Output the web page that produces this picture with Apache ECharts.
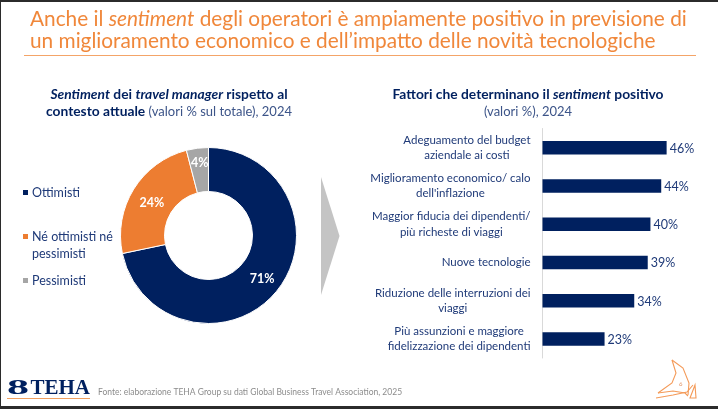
<!DOCTYPE html>
<html><head><meta charset="utf-8">
<style>html,body{margin:0;padding:0;background:#fff}#c{width:718px;height:409px}</style>
<script src="https://cdn.jsdelivr.net/npm/echarts@6/dist/echarts.min.js"></script>
</head><body><div id="c"></div>
<script>
const donutNames = ['Ottimisti', 'Né ottimisti né pessimisti', 'Pessimisti'];
const donutValues = [71, 24, 4];
const factorLabels = [
  'Adeguamento del budget\naziendale ai costi',
  "Miglioramento economico/ calo\ndell'inflazione",
  'Maggior fiducia dei dipendenti/\npiù richeste di viaggi',
  'Nuove tecnologie',
  'Riduzione delle interruzioni dei\nviaggi',
  'Più assunzioni e maggiore\nfidelizzazione dei dipendenti'
];
const factorValues = [46, 44, 40, 39, 34, 23];

const NAVY = '#00205f', ORANGE = '#ed7d31', GRAY = '#a6a6a6', TXT = '#1f3a78', TITLE = '#f0873a';
const FONT = 'Lato';
const chart = echarts.init(document.getElementById('c'));

const head = {fontFamily: FONT, fontSize: 13.8, lineHeight: 17, color: NAVY};
const headRich = {
  b: {...head, fontWeight: 'bold'},
  i: {...head, fontWeight: 'bold', fontStyle: 'italic'},
  n: {...head, fontSize: 13, fontWeight: 'normal', color: '#3c5488'}
};
const bigBase = {fontFamily: FONT, fontSize: 20.8, lineHeight: 22, fontWeight: 'normal', color: TITLE};
const labelNudge = [[0, 0], [2, 4], [0, -4]];

function legendFor(name, top, label) {
  return {
    data: [name], orient: 'vertical', left: 16, top,
    icon: 'rect', itemWidth: 7, itemHeight: 7, itemGap: 0,
    selectedMode: false,
    formatter: () => label,
    textStyle: {fontFamily: FONT, fontSize: 12.5, lineHeight: 17, color: TXT, padding: [0, 0, 0, -2]}
  };
}

chart.setOption({
  animation: false,
  backgroundColor: '#fff',
  title: [
    {left: 30, top: 8, padding: 0,
     text: '{a|Anche il }{i|sentiment}{a| degli operatori è ampiamente positivo in previsione di}\n{a|un miglioramento economico e dell’impatto delle novità tecnologiche}',
     textStyle: {rich: {a: bigBase, i: {...bigBase, fontStyle: 'italic'}}}},
    {left: 169, top: 86, padding: 0, textAlign: 'center',
     text: '{i|Sentiment}{b| dei }{i|travel manager}{b| rispetto al}\n{b|contesto attuale }{n|(valori % sul totale), 2024}',
     textStyle: {rich: headRich}},
    {left: 528, top: 86, padding: 0, textAlign: 'center',
     text: '{b|Fattori che determinano il }{i|sentiment}{b| positivo}\n{n|(valori %), 2024}',
     textStyle: {rich: headRich}},
    {left: 98, top: 388, padding: 0, text: 'Fonte: elaborazione TEHA Group su dati Global Business Travel Association, 2025',
     textStyle: {fontFamily: FONT, fontSize: 8.5, fontWeight: 'normal', color: '#8c8c8c'}}
  ],
  legend: [
    legendFor(donutNames[0], 179, 'Ottimisti'),
    legendFor(donutNames[1], 206, '\nNé ottimisti né\npessimisti'),
    legendFor(donutNames[2], 267, 'Pessimisti')
  ],
  grid: {left: 542.5, top: 128.5, width: 170, height: 229.5, containLabel: false},
  xAxis: {type: 'value', min: 0, max: 63, show: false},
  yAxis: {
    type: 'category', inverse: true, data: factorLabels,
    axisLine: {show: true, lineStyle: {color: '#d9d9d9', width: 1}},
    axisTick: {show: false},
    axisLabel: {
      margin: 12, align: 'right',
      formatter: v => v.split('\n').map(s => '{c|' + s + '}').join('\n'),
      rich: {c: {fontFamily: FONT, fontSize: 11.5, lineHeight: 15.5, color: TXT, align: 'center'}}
    }
  },
  series: [
    {type: 'pie', center: [208.5, 235.5], radius: [44, 88], startAngle: 90,
     color: [NAVY, ORANGE, GRAY],
     itemStyle: {borderColor: '#fff', borderWidth: 1},
     data: donutNames.map((n, i) => ({name: n, value: donutValues[i], label: {offset: labelNudge[i]}})),
     label: {position: 'inside', formatter: p => p.value + '%', color: '#fff', fontFamily: FONT, fontSize: 12.5, fontWeight: 'bold'},
     labelLine: {show: false}, emphasis: {disabled: true}},
    {type: 'bar', data: factorValues, barWidth: 13.5,
     itemStyle: {color: NAVY},
     label: {show: true, position: 'right', distance: 3, offset: [0, 1], formatter: '{c}%', color: TXT, fontFamily: FONT, fontSize: 12.5},
     emphasis: {disabled: true}}
  ],
  graphic: [
    {type: 'rect', shape: {x: 0, y: 0, width: 718, height: 2}, style: {fill: '#2b2b2b'}},
    {type: 'rect', shape: {x: 0, y: 406, width: 718, height: 3}, style: {fill: '#2b2b2b'}},
    {type: 'rect', shape: {x: 0, y: 0, width: 1, height: 409}, style: {fill: '#2b2b2b'}},
    {type: 'rect', shape: {x: 24, y: 55, width: 672, height: 1}, style: {fill: '#f4a468'}},
    {type: 'polygon', shape: {points: [[321, 177], [339.5, 236], [321, 295]]}, style: {fill: '#c4c4c4'}},
    {type: 'text', x: 7, y: 378, scaleX: 2.1, style: {text: '8', fill: NAVY, font: 'bold 21px "Liberation Serif"'}},
    {type: 'text', x: 30.5, y: 378, style: {text: 'TEHA', fill: NAVY, font: 'bold 21px "Liberation Serif"'}},
    {type: 'rect', shape: {x: 7, y: 398, width: 83, height: 1}, style: {fill: '#f0a060'}},
    {type: 'polyline', shape: {points: [[672, 360], [683, 368], [689, 383], [688, 395]]}, style: {stroke: '#f49a58', fill: 'none', lineWidth: 1.1}},
    {type: 'polyline', shape: {points: [[672, 360], [676, 373], [672, 383], [658, 393]]}, style: {stroke: '#f49a58', fill: 'none', lineWidth: 1.1}},
    {type: 'polyline', shape: {points: [[656, 398], [673, 395], [687, 392], [693, 385]]}, style: {stroke: '#f49a58', fill: 'none', lineWidth: 1.1}},
    {type: 'polyline', shape: {points: [[658, 393], [673, 391], [685, 393], [688, 396]]}, style: {stroke: '#f49a58', fill: 'none', lineWidth: 1.1}},
    {type: 'polygon', shape: {points: [[695, 385], [696, 398], [690, 398]]}, style: {stroke: '#f49a58', fill: 'none', lineWidth: 1.1}},
    {type: 'text', style: {x: 679, y: 381, text: '6', fill: '#e09060', font: '6px Lato'}}
  ]
});
</script></body></html>
